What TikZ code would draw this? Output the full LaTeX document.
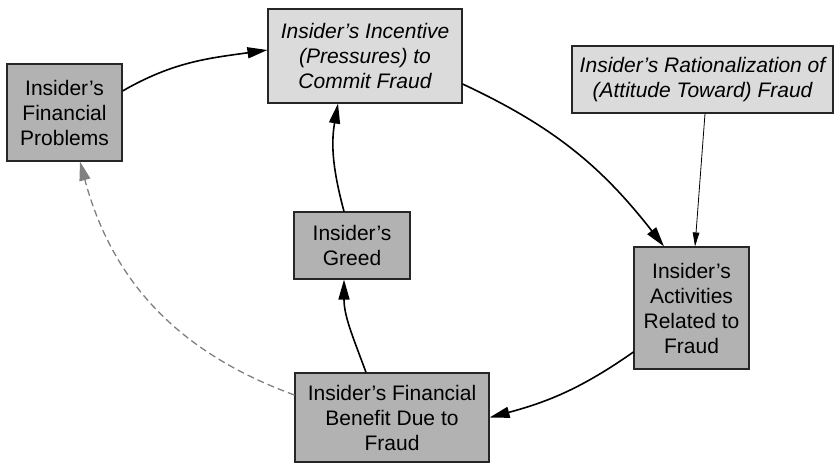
\documentclass[tikz,border=0pt]{standalone}
\usepackage{fontspec}
\setmainfont{Liberation Sans}
\usetikzlibrary{arrows.meta}
\begin{document}
\begin{tikzpicture}[x=1pt,y=1pt,
  box/.style={draw=black!85, line width=1.1pt, align=center, inner sep=0pt,
    font=\fontsize{21}{25}\selectfont},
  darkbox/.style={box, fill=black!30},
  lightbox/.style={box, fill=black!14},
  flow/.style={line width=1.6pt, -{Triangle[length=20pt,width=11pt]}},
  thinflow/.style={line width=0.8pt, -{Triangle[length=14pt,width=6.5pt]}},
  feedback/.style={line width=1.3pt, dashed, dash pattern=on 7pt off 4pt, draw=black!50,
    -{Triangle[length=19pt,width=11pt,fill=black!50]}}]
\useasboundingbox (0,0) rectangle (834,-463);

\node[darkbox, minimum width=115, minimum height=97] (fp) at (64.5,-112.5)
  {Insider’s\\Financial\\Problems};
\node[lightbox, minimum width=194, minimum height=94] (inc) at (365,-56)
  {\itshape Insider’s Incentive\\\itshape (Pressures) to\\\itshape Commit Fraud};
\node[lightbox, minimum width=261, minimum height=67] (rat) at (702.5,-79.5)
  {\itshape Insider’s Rationalization of\\\itshape (Attitude Toward) Fraud};
\node[darkbox, minimum width=116, minimum height=67] (gr) at (352,-245.5)
  {Insider’s\\Greed};
\node[darkbox, minimum width=115, minimum height=122] (act) at (691.5,-308)
  {Insider’s\\Activities\\Related to\\Fraud};
\node[darkbox, minimum width=194, minimum height=89] (ben) at (392,-417.5)
  {Insider’s Financial\\Benefit Due to\\Fraud};

% causal loop
\draw[flow] ([yshift=21.5pt]fp.east) to[out=30,in=188] ([yshift=6pt]inc.west);
\draw[flow] ([yshift=-28pt]inc.east) to[out=-25,in=128] ([xshift=-27.5pt]act.north);
\draw[thinflow] ([xshift=2.5pt]rat.south) -- ([xshift=3.5pt]act.north);
\draw[flow] ([yshift=-44pt]act.west) to[out=215,in=15] (ben.east);
\draw[flow] ([xshift=-26pt]ben.north) to[out=110,in=-90] ([xshift=-8pt]gr.south);
\draw[flow] ([xshift=-8pt]gr.north) to[out=105,in=-100] ([xshift=-27pt]inc.south);
\draw[feedback] ([yshift=22.5pt]ben.west) to[out=160,in=-75] ([xshift=15.5pt]fp.south);
\end{tikzpicture}
\end{document}
